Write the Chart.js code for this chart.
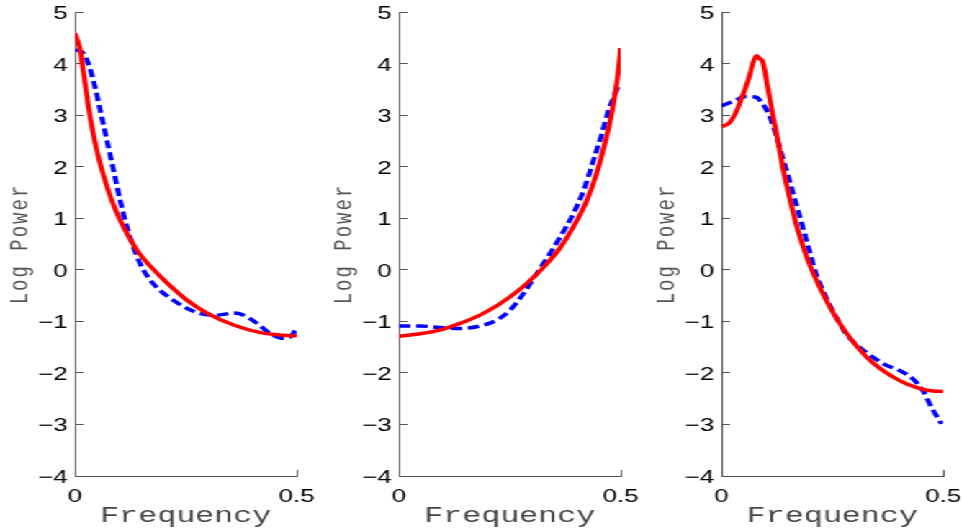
<!DOCTYPE html>
<html>
<head>
<meta charset="utf-8">
<script src="https://cdn.jsdelivr.net/npm/chart.js@4.4.1/dist/chart.umd.min.js"></script>
<style>
html, body { margin: 0; padding: 0; background: #ffffff; overflow: hidden; }
#wrap { position: absolute; left: 0; top: 0; width: 670px; height: 529px; transform: scaleX(1.44); transform-origin: 0 0; }
#wrap canvas { position: absolute; top: 0; }
</style>
</head>
<body>
<div id="wrap">
  <canvas id="c1" width="220" height="529" style="left:0px"></canvas>
  <canvas id="c2" width="220" height="529" style="left:225px"></canvas>
  <canvas id="c3" width="220" height="529" style="left:449.3px"></canvas>
</div>
<script>
// ---- Data ----
const xTicks = [0, 0.5];
const yTicks = [-4, -3, -2, -1, 0, 1, 2, 3, 4, 5];
const xTitle = 'Frequency';
const yTitle = 'Log Power';

// Panel 1
const freqRed1 = [0, 0.011, 0.020, 0.030, 0.040, 0.050, 0.060, 0.070, 0.080, 0.090, 0.100, 0.117, 0.140, 0.170, 0.207, 0.253, 0.298, 0.358, 0.419, 0.470, 0.5];
const powRed1  = [4.59, 4.30, 3.80, 3.20, 2.70, 2.30, 1.97, 1.68, 1.42, 1.20, 1.00, 0.71, 0.38, 0.07, -0.25, -0.59, -0.84, -1.07, -1.22, -1.27, -1.28];
const freqBlue1 = [0, 0.019, 0.030, 0.045, 0.057, 0.072, 0.087, 0.102, 0.117, 0.132, 0.147, 0.170, 0.192, 0.222, 0.253, 0.283, 0.320, 0.358, 0.381, 0.411, 0.441, 0.471, 0.486, 0.5];
const powBlue1  = [4.27, 4.20, 4.01, 3.56, 3.10, 2.52, 1.94, 1.35, 0.84, 0.45, 0.12, -0.20, -0.40, -0.59, -0.75, -0.85, -0.88, -0.84, -0.88, -1.04, -1.24, -1.33, -1.30, -1.14];

// Panel 2
const freqRed2 = [0, 0.048, 0.092, 0.138, 0.183, 0.228, 0.274, 0.304, 0.334, 0.364, 0.394, 0.425, 0.447, 0.462, 0.477, 0.489, 0.496, 0.5];
const powRed2  = [-1.29, -1.24, -1.17, -1.04, -0.88, -0.66, -0.37, -0.14, 0.12, 0.43, 0.84, 1.37, 1.90, 2.37, 2.91, 3.49, 3.94, 4.30];
const freqBlue2 = [0, 0.048, 0.092, 0.138, 0.183, 0.220, 0.251, 0.281, 0.311, 0.341, 0.364, 0.394, 0.417, 0.439, 0.458, 0.473, 0.485, 0.495];
const powBlue2  = [-1.09, -1.09, -1.12, -1.14, -1.09, -0.98, -0.78, -0.46, -0.07, 0.32, 0.64, 1.10, 1.55, 2.13, 2.65, 3.10, 3.36, 3.57];

// Panel 3
const freqRed3 = [0, 0.017, 0.032, 0.047, 0.063, 0.070, 0.079, 0.087, 0.093, 0.104, 0.115, 0.127, 0.138, 0.153, 0.168, 0.183, 0.198, 0.221, 0.243, 0.266, 0.296, 0.326, 0.357, 0.387, 0.417, 0.455, 0.477, 0.5];
const powRed3  = [2.78, 2.84, 3.04, 3.36, 3.75, 3.98, 4.15, 4.09, 4.04, 3.56, 3.04, 2.52, 2.00, 1.42, 0.90, 0.48, 0.12, -0.33, -0.70, -1.03, -1.39, -1.68, -1.91, -2.08, -2.21, -2.32, -2.35, -2.36];
const freqBlue3 = [0, 0.025, 0.055, 0.077, 0.092, 0.107, 0.122, 0.137, 0.153, 0.168, 0.183, 0.198, 0.213, 0.235, 0.258, 0.281, 0.311, 0.341, 0.371, 0.401, 0.431, 0.454, 0.473, 0.496];
const powBlue3  = [3.18, 3.26, 3.36, 3.35, 3.23, 3.01, 2.65, 2.20, 1.74, 1.29, 0.84, 0.38, -0.07, -0.52, -0.91, -1.24, -1.50, -1.69, -1.85, -1.95, -2.11, -2.34, -2.66, -2.99];

// ---- Scale subclass: adds letter spacing to the rotated y title ----
class SpacedLinearScale extends Chart.LinearScale {
  drawTitle() {
    const ctx = this.ctx;
    ctx.save();
    if (this.axis === 'y') { ctx.letterSpacing = '2px'; }
    super.drawTitle();
    ctx.restore();
  }
}
SpacedLinearScale.id = 'spacedLinear';
SpacedLinearScale.defaults = Chart.LinearScale.defaults;
Chart.register(SpacedLinearScale);

const AXIS = '#555555';
const tickFont = { family: '"Liberation Sans", Arial, Helvetica, sans-serif', size: 18 };
const monoFamily = '"Liberation Mono", "Courier New", monospace';
const fmt = (v) => (v < 0 ? '\u2212' + Math.abs(v) : String(v));
const pts = (xs, ys) => xs.map((x, i) => ({ x: x, y: ys[i] }));

function makeChart(id, fR, vR, fB, vB) {
  return new Chart(document.getElementById(id), {
    type: 'line',
    data: {
      datasets: [
        { label: 'model', data: pts(fR, vR), borderColor: '#ff0000', borderWidth: 3.5, pointRadius: 0, fill: false, cubicInterpolationMode: 'monotone' },
        { label: 'estimate', data: pts(fB, vB), borderColor: '#0000ff', borderWidth: 3.5, borderDash: [8, 4], pointRadius: 0, fill: false, cubicInterpolationMode: 'monotone' }
      ]
    },
    options: {
      responsive: false,
      animation: false,
      events: [],
      layout: { padding: { left: 0, right: 14, top: 12, bottom: 0 } },
      plugins: { legend: { display: false }, tooltip: { enabled: false } },
      scales: {
        x: {
          type: 'spacedLinear',
          min: xTicks[0], max: xTicks[xTicks.length - 1],
          afterFit: (s) => { s.height = 53; s.paddingLeft = 0; s.paddingRight = 0; },
          afterBuildTicks: (s) => { s.ticks = xTicks.map(v => ({ value: v })); },
          grid: { drawOnChartArea: false, drawTicks: true, tickLength: -6, color: AXIS, lineWidth: 1 },
          border: { display: true, color: AXIS, width: 1 },
          ticks: { padding: 16, color: '#000000', font: tickFont, maxRotation: 0, autoSkip: false, callback: (v) => fmt(v) },
          title: { display: true, text: xTitle, color: '#444444', font: { family: monoFamily, size: 22 }, padding: { top: 0, bottom: 0 } }
        },
        y: {
          type: 'spacedLinear',
          min: yTicks[0], max: yTicks[yTicks.length - 1],
          afterFit: (s) => { s.width = 52; s.paddingTop = 0; s.paddingBottom = 0; },
          afterBuildTicks: (s) => { s.ticks = yTicks.map(v => ({ value: v })); },
          grid: { drawOnChartArea: false, drawTicks: true, tickLength: -6, color: AXIS, lineWidth: 1 },
          border: { display: true, color: AXIS, width: 1 },
          ticks: { padding: 11, labelOffset: 2, color: '#000000', font: tickFont, autoSkip: false, callback: (v) => fmt(v) },
          title: { display: true, text: yTitle, color: '#555555', font: { family: monoFamily, size: 19 }, padding: { top: 3, bottom: 0 } }
        }
      }
    }
  });
}

makeChart('c1', freqRed1, powRed1, freqBlue1, powBlue1);
makeChart('c2', freqRed2, powRed2, freqBlue2, powBlue2);
makeChart('c3', freqRed3, powRed3, freqBlue3, powBlue3);
</script>
</body>
</html>
